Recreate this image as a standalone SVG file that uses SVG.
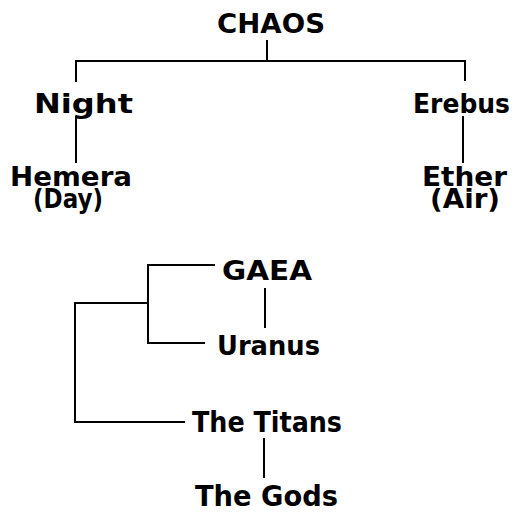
<svg xmlns="http://www.w3.org/2000/svg" width="514" height="512" viewBox="0 0 514 512">
<style>
text{font-family:"DejaVu Sans","Liberation Sans",sans-serif;font-weight:bold;font-size:26px;fill:#000}
.c{fill:none;stroke:#000;stroke-width:2}
.big{font-size:28px}
</style>
<rect width="514" height="512" fill="#fff"/>
<g id="connectors">
<path class="c" d="M267 40V61M76 82V61H465V81"/>
<path class="c" d="M76 116V163"/>
<path class="c" d="M463 116V163"/>
<path class="c" d="M215 265H148V343H205"/>
<path class="c" d="M148 303H75V422H185"/>
<path class="c" d="M265 288V328"/>
<path class="c" d="M264 438V478"/>
</g>
<g id="chaos"><text x="217" y="33" textLength="108" lengthAdjust="spacingAndGlyphs">CHAOS</text></g>
<g id="night"><text x="34" y="113" textLength="99" lengthAdjust="spacingAndGlyphs">Night</text></g>
<g id="erebus"><text x="413" y="113" textLength="97" lengthAdjust="spacingAndGlyphs">Erebus</text></g>
<g id="hemera"><text x="10" y="186" textLength="122" lengthAdjust="spacingAndGlyphs">Hemera</text><text x="33" y="208" font-size="24" textLength="70" lengthAdjust="spacingAndGlyphs">(Day)</text></g>
<g id="ether"><text x="422" y="186" textLength="85" lengthAdjust="spacingAndGlyphs">Ether</text><text x="430" y="208" font-size="24" textLength="70" lengthAdjust="spacingAndGlyphs">(Air)</text></g>
<g id="gaea"><text x="222" y="280" textLength="90" lengthAdjust="spacingAndGlyphs">GAEA</text></g>
<g id="uranus"><text x="217" y="355" font-size="27" textLength="103" lengthAdjust="spacingAndGlyphs">Uranus</text></g>
<g id="titans"><text class="big" x="192" y="432" textLength="150" lengthAdjust="spacingAndGlyphs">The Titans</text></g>
<g id="gods"><text class="big" x="195" y="506" textLength="143" lengthAdjust="spacingAndGlyphs">The Gods</text></g>
</svg>
